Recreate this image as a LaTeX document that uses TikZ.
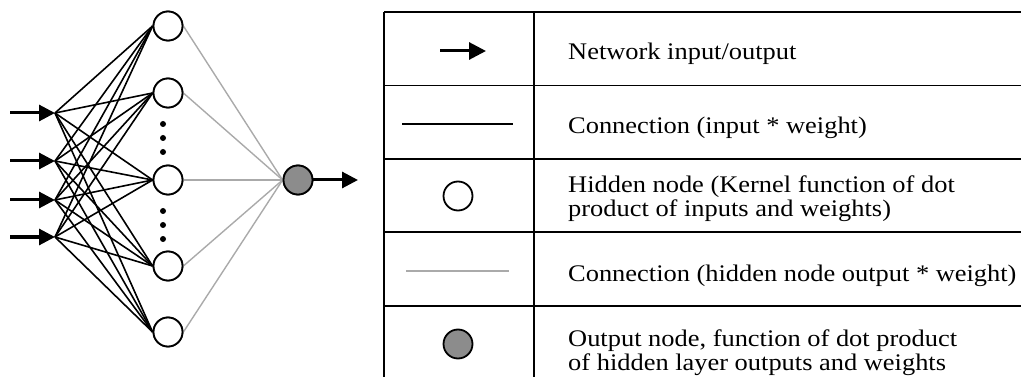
\documentclass[tikz,border=0pt]{standalone}
\usepackage{fontspec}
\setmainfont{Liberation Serif}
\newfontfamily\legendface{Liberation Serif}[FakeStretch=1.11]
\usetikzlibrary{arrows.meta}
\definecolor{wgray}{RGB}{170,170,170}
\definecolor{ofill}{RGB}{140,140,140}
\newcommand\legendfont{\legendface\fontsize{23.8}{24}\selectfont\setlength{\lineskiplimit}{-20pt}}

\begin{document}
\begin{tikzpicture}[x=1pt,y=-1pt,
  hid/.style={circle,draw,line width=1.8pt,fill=white,minimum size=29pt,inner sep=0pt},
  outn/.style={hid,fill=ofill},
  io/.style={line width=3pt,-{Triangle[length=16pt,width=16pt]}},
  wline/.style={line width=1.6pt},
  gline/.style={draw=wgray,line width=1.4pt},
  dotn/.style={circle,fill,inner sep=0pt,minimum size=6pt},
  rule/.style={line width=1.6pt},
  txt/.style={anchor=base west,font=\legendfont,inner sep=0pt,align=left}]

\useasboundingbox (0,0) rectangle (1021,377);

% ---------- network ----------
% input arrows
\foreach \i/\y in {1/113,2/161,3/200,4/237}{
  \coordinate (s\i) at (10,\y);
  \coordinate (in\i) at (55,\y);
}
% hidden layer
\foreach \j/\y in {1/26,2/93,3/180,4/266,5/332}{
  \node[hid] (h\j) at (168,\y) {};
}
% input-to-hidden connections
\foreach \i in {1,...,4}{
  \foreach \j in {1,...,5}{
    \draw[wline] (in\i) -- (h\j.west);
  }
}
\foreach \i in {1,...,4}{
  \draw[io] (s\i) -- (in\i);
}
% ellipsis dots between hidden nodes
\foreach \k/\y in {1/124,2/138,3/152,4/211,5/225,6/239}{
  \node[dotn] (d\k) at (163,\y) {};
}
% output node
\node[outn] (out) at (298,180) {};
\foreach \j in {1,...,5}{
  \draw[gline] (h\j.east) -- (out.west);
}
% redraw hidden nodes above the lines
\foreach \j/\y in {1/26,2/93,3/180,4/266,5/332}{
  \node[hid] at (168,\y) {};
}
\node[outn] at (298,180) {};
\coordinate (oend) at (358,180);
\draw[io] (out.east) -- (oend);

% ---------- legend table ----------
\coordinate (tl) at (384,12);
\coordinate (bl) at (384,377);
\coordinate (tm) at (534,12);
\coordinate (bm) at (534,377);
\draw[rule] (tl) -- (bl);
\draw[rule] (tm) -- (bm);
\foreach \r/\y in {0/12,1/85.5,2/159,3/232,4/306}{
  \coordinate (ra\r) at (384,\y);
  \coordinate (rb\r) at (1030,\y);
  \draw[rule] (ra\r) -- (rb\r);
}

% legend symbols
\coordinate (la1) at (440,51);
\coordinate (la2) at (486,51);
\draw[line width=3pt,-{Triangle[length=17pt,width=17pt]}] (la1) -- (la2);
\coordinate (lb1) at (402,124);
\coordinate (lb2) at (513,124);
\draw[wline] (lb1) -- (lb2);
\node[hid] (lc) at (458,196) {};
\coordinate (ld1) at (406,271);
\coordinate (ld2) at (509,271);
\draw[gline,line width=2pt] (ld1) -- (ld2);
\node[outn] (le) at (458,344) {};

% legend texts (multi-line nodes sit on the baseline of their last line)
\node[txt] (t1) at (568,60) {Network input/output};
\node[txt] (t2) at (568,134) {Connection (input * weight)};
\node[txt] (t3) at (568,216) {Hidden node (Kernel function of dot\\product of inputs and weights)};
\node[txt] (t4) at (568,281) {Connection (hidden node output * weight)};
\node[txt] (t5) at (568,370) {Output node, function of dot product\\of hidden layer outputs and weights};
\end{tikzpicture}
\end{document}
